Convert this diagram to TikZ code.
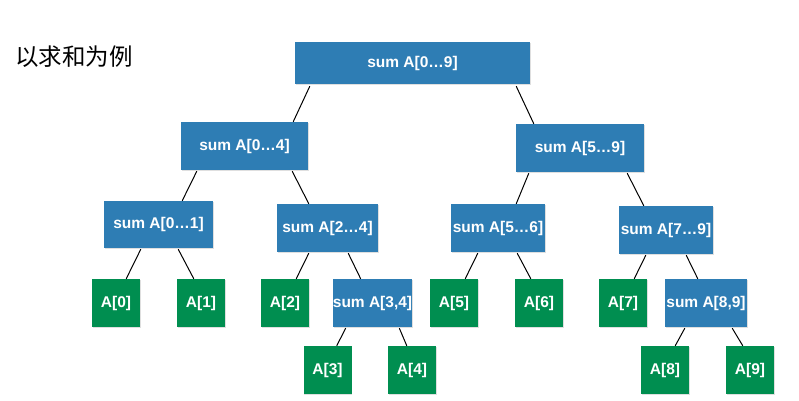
\documentclass[tikz,border=0pt]{standalone}
\usepackage{fontspec}
\setmainfont{Liberation Sans}
\newfontfamily\cjkfont{Noto Sans CJK SC}
\usetikzlibrary{shadows}
\definecolor{sumBlue}{RGB}{46,125,180}
\definecolor{leafGreen}{RGB}{0,142,80}
\tikzset{
  sumBox/.style={fill=sumBlue, text=white, inner sep=0pt, minimum height=48pt, font=\bfseries\fontsize{15.5}{17}\selectfont, drop shadow={shadow xshift=0.8pt, shadow yshift=-1.2pt, opacity=0.25}},
  leafBox/.style={fill=leafGreen, text=white, inner sep=0pt, minimum width=48pt, minimum height=48pt, font=\bfseries\fontsize{15.5}{17}\selectfont, drop shadow={shadow xshift=0.8pt, shadow yshift=-1.2pt, opacity=0.25}},
  treeLine/.style={draw=black, line width=1pt}
}

\begin{document}
\begin{tikzpicture}[x=1pt,y=-1pt]
\useasboundingbox (0,0) rectangle (799,400);
\node[anchor=west, inner sep=0pt, font=\cjkfont\fontsize{23.5}{25}\selectfont] (title) at (15,57) {以求和为例};
\node[sumBox, minimum width=235pt, minimum height=42pt] (s09) at (412.5,63) {sum A[0…9]};
\node[sumBox, minimum width=127pt] (s04) at (244.5,146) {sum A[0…4]};
\node[sumBox, minimum width=128pt] (s59) at (580,148) {sum A[5…9]};
\node[sumBox, minimum width=109pt, minimum height=47pt] (s01) at (158.5,224.5) {sum A[0…1]};
\node[sumBox, minimum width=101pt] (s24) at (327.5,228) {sum A[2…4]};
\node[sumBox, minimum width=94pt] (s56) at (498,228) {sum A[5…6]};
\node[sumBox, minimum width=94pt] (s79) at (666,230) {sum A[7…9]};
\node[leafBox] (a0) at (116,303) {A[0]};
\node[leafBox] (a1) at (201,303) {A[1]};
\node[leafBox] (a2) at (285,303) {A[2]};
\node[sumBox, minimum width=77pt] (s34) at (372.5,303) {sum A[3,4]};
\node[leafBox] (a5) at (454,303) {A[5]};
\node[leafBox] (a6) at (539,303) {A[6]};
\node[leafBox] (a7) at (623,303) {A[7]};
\node[sumBox, minimum width=82pt] (s89) at (706,303) {sum A[8,9]};
\node[leafBox] (a3) at (327.5,370) {A[3]};
\node[leafBox] (a4) at (412,370) {A[4]};
\node[leafBox] (a8) at (665,370) {A[8]};
\node[leafBox] (a9) at (750,370) {A[9]};
\draw[treeLine] ([xshift=15,yshift=-2]s09.south west) -- ([xshift=-15]s04.north east);
\draw[treeLine] ([xshift=-14,yshift=-2]s09.south east) -- ([xshift=18]s59.north west);
\draw[treeLine] ([xshift=16,yshift=-1]s04.south west) -- ([xshift=-31]s01.north east);
\draw[treeLine] ([xshift=-16,yshift=-1]s04.south east) -- ([xshift=32]s24.north west);
\draw[treeLine] ([xshift=13,yshift=-1]s59.south west) -- ([xshift=-29]s56.north east);
\draw[treeLine] ([xshift=-17,yshift=-1]s59.south east) -- ([xshift=25]s79.north west);
\draw[treeLine] ([xshift=37,yshift=-1]s01.south west) -- ([xshift=-14]a0.north east);
\draw[treeLine] ([xshift=-35,yshift=-1]s01.south east) -- ([xshift=17]a1.north west);
\draw[treeLine] ([xshift=32,yshift=-1]s24.south west) -- ([xshift=-13]a2.north east);
\draw[treeLine] ([xshift=-30,yshift=-1]s24.south east) -- ([xshift=28]s34.north west);
\draw[treeLine] ([xshift=27,yshift=-1]s56.south west) -- ([xshift=-13]a5.north east);
\draw[treeLine] ([xshift=-28,yshift=-1]s56.south east) -- ([xshift=16]a6.north west);
\draw[treeLine] ([xshift=27,yshift=-1]s79.south west) -- ([xshift=-13]a7.north east);
\draw[treeLine] ([xshift=-27,yshift=-1]s79.south east) -- ([xshift=33]s89.north west);
\draw[treeLine] ([xshift=13,yshift=-1]s34.south west) -- ([xshift=-15]a3.north east);
\draw[treeLine] ([xshift=-13,yshift=-1]s34.south east) -- ([xshift=19]a4.north west);
\draw[treeLine] ([xshift=20,yshift=-1]s89.south west) -- ([xshift=-14]a8.north east);
\draw[treeLine] ([xshift=-15,yshift=-1]s89.south east) -- ([xshift=17]a9.north west);
\end{tikzpicture}
\end{document}
